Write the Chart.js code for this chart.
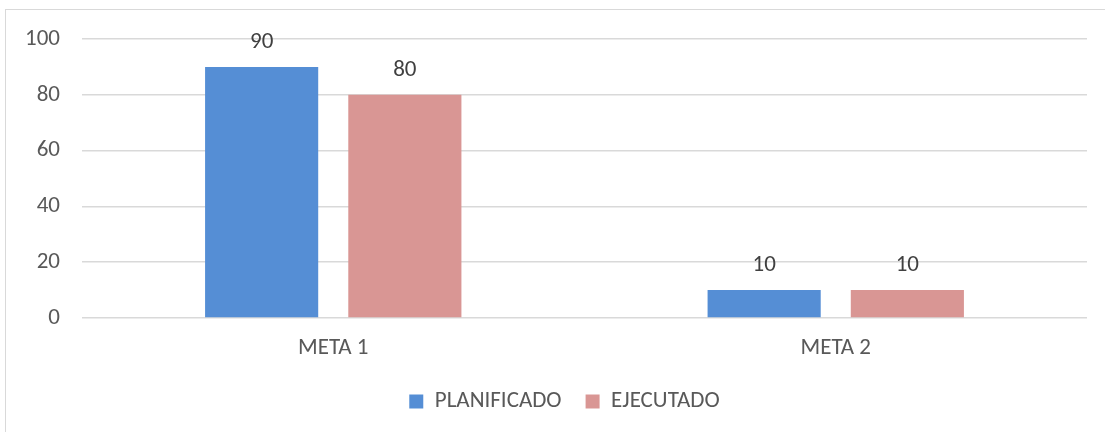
<!DOCTYPE html>
<html>
<head>
<meta charset="utf-8">
<script src="https://cdn.jsdelivr.net/npm/chart.js@4/dist/chart.umd.min.js"></script>
<style>
    html, body { margin: 0; padding: 0; background: #fff; }
    #wrap { position: relative; width: 1105px; height: 432px; overflow: hidden; }
    #frame { position: absolute; left: 5px; top: 9px; width: 1200px; height: 500px;
             border-top: 1px solid #d9d9d9; border-left: 1px solid #d9d9d9; }
    #chart { position: absolute; left: 0; top: 0; }
</style>
</head>
<body>
<div id="wrap">
    <div id="frame"></div>
    <canvas id="chart" width="1105" height="432"></canvas>
</div>
<script>
const categories = ['META 1', 'META 2'];
const planificado = [90, 10];
const ejecutado = [80, 10];
const yTicks = [0, 20, 40, 60, 80, 100];

const textColor = '#595959';
const fontFamily = 'Calibri, Carlito, Lato, sans-serif';
const fontSize = 23;

//draw the numbers above each bar
const barLabels = {
    id: 'barLabels',
    afterDatasetsDraw(chart) {
        const ctx = chart.ctx;
        ctx.save();
        ctx.fillStyle = '#404040';
        ctx.font = fontSize + 'px ' + fontFamily;
        ctx.textAlign = 'center';
        ctx.textBaseline = 'alphabetic';
        chart.data.datasets.forEach((ds, i) => {
            chart.getDatasetMeta(i).data.forEach((bar, j) => {
                ctx.fillText(String(ds.data[j]), bar.x, bar.y - 19);
            });
        });
        ctx.restore();
    }
};

//the legend sits a bit right of the canvas centre in the original
const legendShift = {
    id: 'legendShift',
    beforeDraw(chart) {
        if (chart.legend) {
            chart.legend.left += 21;
            chart.legend.right += 21;
        }
    },
    afterDraw(chart) {
        if (chart.legend) {
            chart.legend.left -= 21;
            chart.legend.right -= 21;
        }
    }
};

const ctx = document.getElementById('chart').getContext('2d');
new Chart(ctx, {
    type: 'bar',
    data: {
        labels: categories,
        datasets: [{
            label: 'PLANIFICADO',
            data: planificado,
            backgroundColor: '#558ed5',
            categoryPercentage: 0.57,
            barPercentage: 0.79
        }, {
            label: 'EJECUTADO',
            data: ejecutado,
            backgroundColor: '#d99694',
            categoryPercentage: 0.57,
            barPercentage: 0.79
        }]
    },
    options: {
        responsive: false,
        animation: false,
        layout: { padding: { left: 0, top: 39, right: 18, bottom: 9 } },
        plugins: {
            tooltip: { enabled: false },
            legend: {
                position: 'bottom',
                labels: {
                    boxWidth: 14,
                    boxHeight: 14,
                    padding: 24,
                    color: textColor,
                    font: { family: fontFamily, size: fontSize }
                }
            }
        },
        scales: {
            x: {
                grid: { display: false, drawTicks: false },
                border: { display: false },
                ticks: { color: textColor, padding: 16, font: { family: fontFamily, size: fontSize } },
                afterFit(scale) { scale.height = 48; }
            },
            y: {
                min: 0,
                max: 100,
                afterBuildTicks(scale) { scale.ticks = yTicks.map(v => ({ value: v })); },
                grid: { color: '#d9d9d9', lineWidth: 1.5, drawTicks: false },
                border: { display: false },
                ticks: { color: textColor, padding: 22, font: { family: fontFamily, size: fontSize } },
                afterFit(scale) { scale.width = 82; }
            }
        }
    },
    plugins: [barLabels, legendShift]
});
</script>
</body>
</html>
